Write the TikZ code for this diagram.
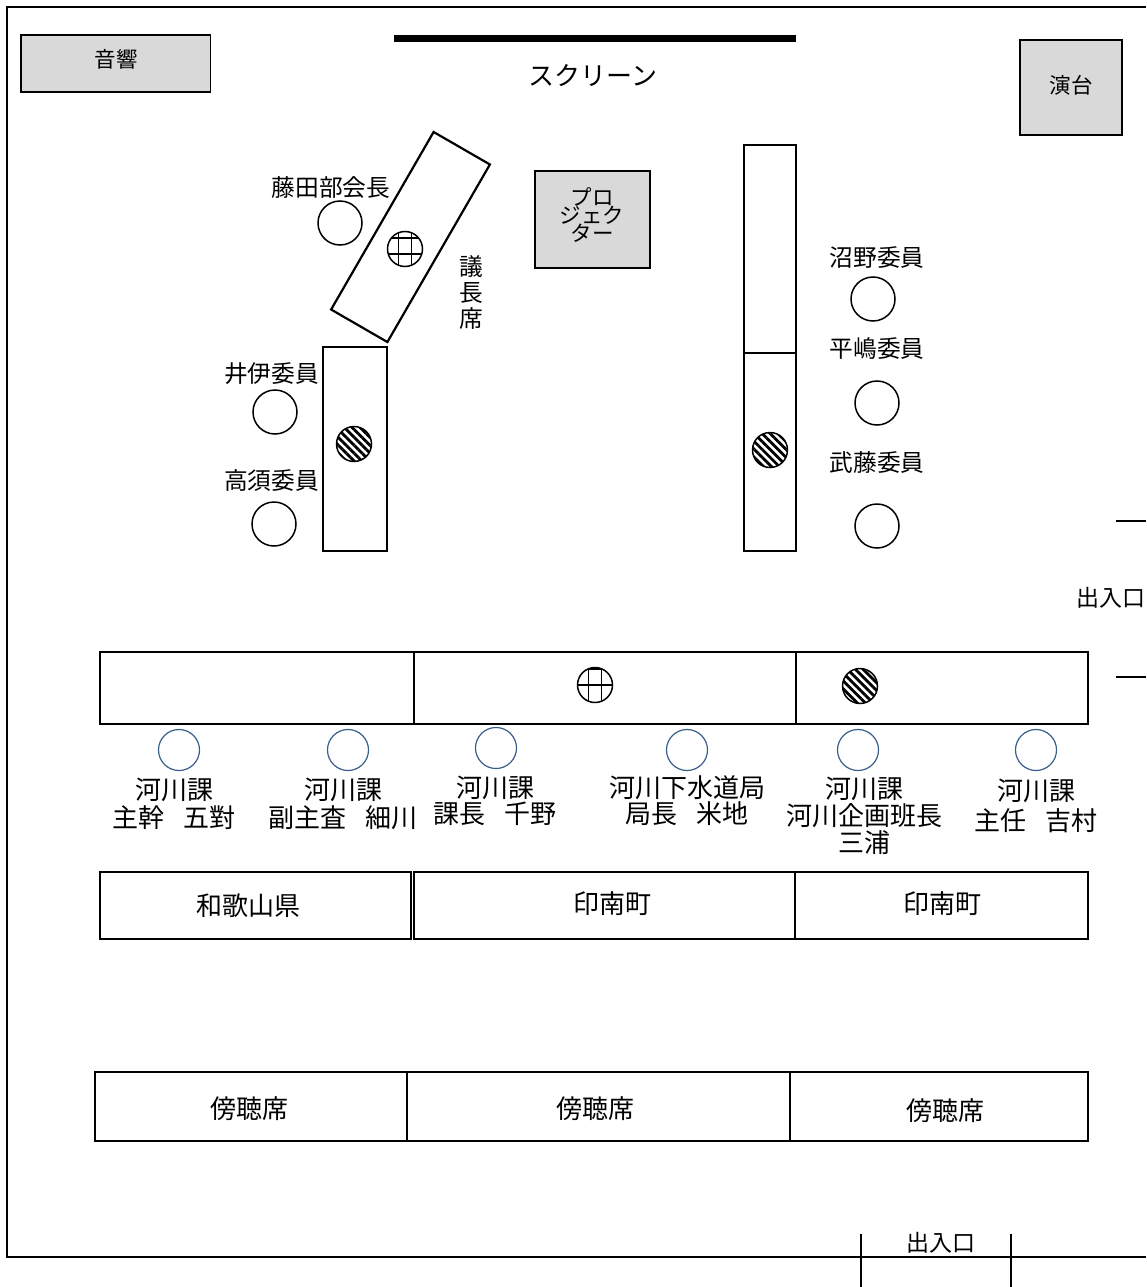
\documentclass[tikz,border=0pt]{standalone}
\usepackage{fontspec}
\setmainfont{Noto Sans CJK JP}
\usetikzlibrary{patterns.meta}
\definecolor{seatblue}{HTML}{385D8A}

\begin{document}
\begin{tikzpicture}[x=1pt, y=-1pt]
        %style
        \tikzset{desk/.style = {shape=rectangle, draw, line width=2.2pt, inner sep=0pt}}
        \tikzset{graybox/.style = {desk, line width=1.4pt, fill=black!15}}
        \tikzset{seat/.style = {shape=circle, draw, line width=1.5pt, minimum size=44pt, inner sep=0pt}}
        \tikzset{staffseat/.style = {shape=circle, draw=seatblue, line width=1.2pt, minimum size=41pt, inner sep=0pt}}
        \tikzset{hatchseat/.style = {shape=circle, draw, line width=1.5pt, minimum size=35pt, inner sep=0pt, pattern={Lines[angle=-45,distance=5.6pt,line width=2.8pt]}}}
        \tikzset{gridseat/.style 2 args = {shape=circle, draw, line width=1.5pt, minimum size=35pt, inner sep=0pt,
                path picture={\draw[line width=1.5pt] ([xshift=-6.5pt]path picture bounding box.north) -- ([xshift=-6.5pt]path picture bounding box.south)
                        ([xshift=6.5pt]path picture bounding box.north) -- ([xshift=6.5pt]path picture bounding box.south)
                        ([yshift=#1]path picture bounding box.west) -- ([yshift=#1]path picture bounding box.east)
                        ([yshift=#2]path picture bounding box.west) -- ([yshift=#2]path picture bounding box.east);}}}
        \tikzset{label/.style = {inner sep=0pt, align=center, font=\fontsize{23.7}{26}\selectfont}}
        \tikzset{biglabel/.style = {inner sep=0pt, align=center, font=\fontsize{26}{26}\selectfont}}
        \tikzset{smalllabel/.style = {inner sep=0pt, align=center, font=\fontsize{21.5}{24}\selectfont}}
        \tikzset{doorlabel/.style = {inner sep=0pt, font=\fontsize{23}{24}\selectfont}}

        \useasboundingbox (0,0) rectangle (1146,1287);

        % room
        \draw[line width=1.5pt] (1146,7) -- (7,7) -- (7,1257) -- (1146,1257);
        \draw[line width=1.5pt] (1116,521) -- (1146,521);
        \draw[line width=1.5pt] (1116,677) -- (1146,677);
        \draw[line width=1.5pt] (861,1234) -- (861,1287);
        \draw[line width=1.5pt] (1011,1234) -- (1011,1287);
        \node[doorlabel] (doorright)  at (1110.5,598)  {出入口};
        \node[doorlabel] (doorbottom) at (941,1243)  {出入口};

        % front
        \node[graybox, minimum width=189.5pt, minimum height=57pt] (sound) at (115.8,63.5) {};
        \node[smalllabel] (soundtext) at (116,59) {音響};
        \draw[line width=7pt] (394,39) -- (796,39);
        \node[biglabel] (screen) at (593,76) {スクリーン};
        \node[graybox, minimum width=102pt, minimum height=95pt] (podium) at (1071,87.5) {};
        \node[smalllabel] (podiumtext) at (1071,85) {演台};
        \node[graybox, minimum width=115pt, minimum height=97pt] (projector) at (592.5,219.5) {};
        \node[inner sep=0pt, align=center, font=\fontsize{21.5}{17}\selectfont] (projectortext) at (592,215) {プロ\\[-1pt]ジェク\\[-1pt]ター};

        % committee
        \node[desk, rotate=-30, minimum width=65pt, minimum height=205pt] (chairdesk) at (410.5,237) {};
        \node[desk, minimum width=64pt, minimum height=204pt] (leftdesk) at (355,449) {};
        \node[desk, minimum width=52pt, minimum height=208pt] (rightupper) at (770,249) {};
        \node[desk, minimum width=52pt, minimum height=198pt] (rightlower) at (770,452) {};
        \node[gridseat={11pt}{-5pt}]  (chairmic) at (405,249) {};
        \node[hatchseat] (leftmic)  at (354,444) {};
        \node[hatchseat] (rightmic) at (770,450) {};
        \node[label] (chairtext) at (471,293) {議\\長\\席};
        \node[seat] (fujita)  at (340,223) {};
        \node[seat] (ii)      at (275,412) {};
        \node[seat] (takasu)  at (274,524) {};
        \node[seat] (numano)  at (873,299) {};
        \node[seat] (hirashima) at (877,403) {};
        \node[seat] (muto)    at (877,526) {};
        \node[label] (fujitatext) at (331,188) {藤田部会長};
        \node[label] (iitext)     at (271.5,374) {井伊委員};
        \node[label] (takasutext) at (271.5,481) {高須委員};
        \node[label] (numanotext) at (877,258) {沼野委員};
        \node[label] (hirashimatext) at (877,349) {平嶋委員};
        \node[label] (mutotext)   at (877,463) {武藤委員};

        % staff
        \node[desk, minimum width=314pt, minimum height=72pt] (stafffirst)  at (257,688) {};
        \node[desk, minimum width=382pt, minimum height=72pt] (staffsecond) at (605,688) {};
        \node[desk, minimum width=292pt, minimum height=72pt] (staffthird)  at (942,688) {};
        \node[gridseat={16pt}{0pt}]  (staffgrid)  at (595,685) {};
        \node[hatchseat] (staffhatch) at (860,686) {};
        \node[staffseat] (gotsui)   at (179,750) {};
        \node[staffseat] (hosokawa) at (348,750) {};
        \node[staffseat] (chino)    at (496,748) {};
        \node[staffseat] (yonechi)  at (687,750) {};
        \node[staffseat] (miura)    at (858,750) {};
        \node[staffseat] (yoshimura) at (1036,750) {};
        \node[biglabel] (gotsuitext)   at (174,804)  {河川課\\[2pt]主幹\hspace{.7em}五對};
        \node[biglabel] (hosokawatext) at (343,804)  {河川課\\[2pt]副主査\hspace{.7em}細川};
        \node[biglabel] (chinotext)    at (495,801)  {河川課\\課長\hspace{.7em}千野};
        \node[biglabel] (yonechitext)  at (687,801)  {河川下水道局\\局長\hspace{.7em}米地};
        \node[biglabel] (miuratext)    at (864,816)  {河川課\\[1pt]河川企画班長\\[1pt]三浦};
        \node[biglabel] (yoshimuratext) at (1036,806) {河川課\\[4pt]主任\hspace{.7em}吉村};

        % town and prefecture
        \node[desk, minimum width=311pt, minimum height=67pt] (wakayama) at (255.5,905.5) {};
        \node[desk, minimum width=381pt, minimum height=67pt] (inamifirst) at (604.5,905.5) {};
        \node[desk, minimum width=293pt, minimum height=67pt] (inamisecond) at (941.5,905.5) {};
        \node[biglabel] (wakayamatext) at (248,906) {和歌山県};
        \node[biglabel] (inamifirsttext) at (612,904) {印南町};
        \node[biglabel] (inamisecondtext) at (942,904) {印南町};

        % public seats
        \node[desk, minimum width=312pt, minimum height=69pt] (publicfirst)  at (251,1106.5) {};
        \node[desk, minimum width=383pt, minimum height=69pt] (publicsecond) at (598.5,1106.5) {};
        \node[desk, minimum width=298pt, minimum height=69pt] (publicthird)  at (939,1106.5) {};
        \node[biglabel] (publicfirsttext)  at (249,1109) {傍聴席};
        \node[biglabel] (publicsecondtext) at (595,1109) {傍聴席};
        \node[biglabel] (publicthirdtext)  at (945,1111) {傍聴席};
\end{tikzpicture}
\end{document}
